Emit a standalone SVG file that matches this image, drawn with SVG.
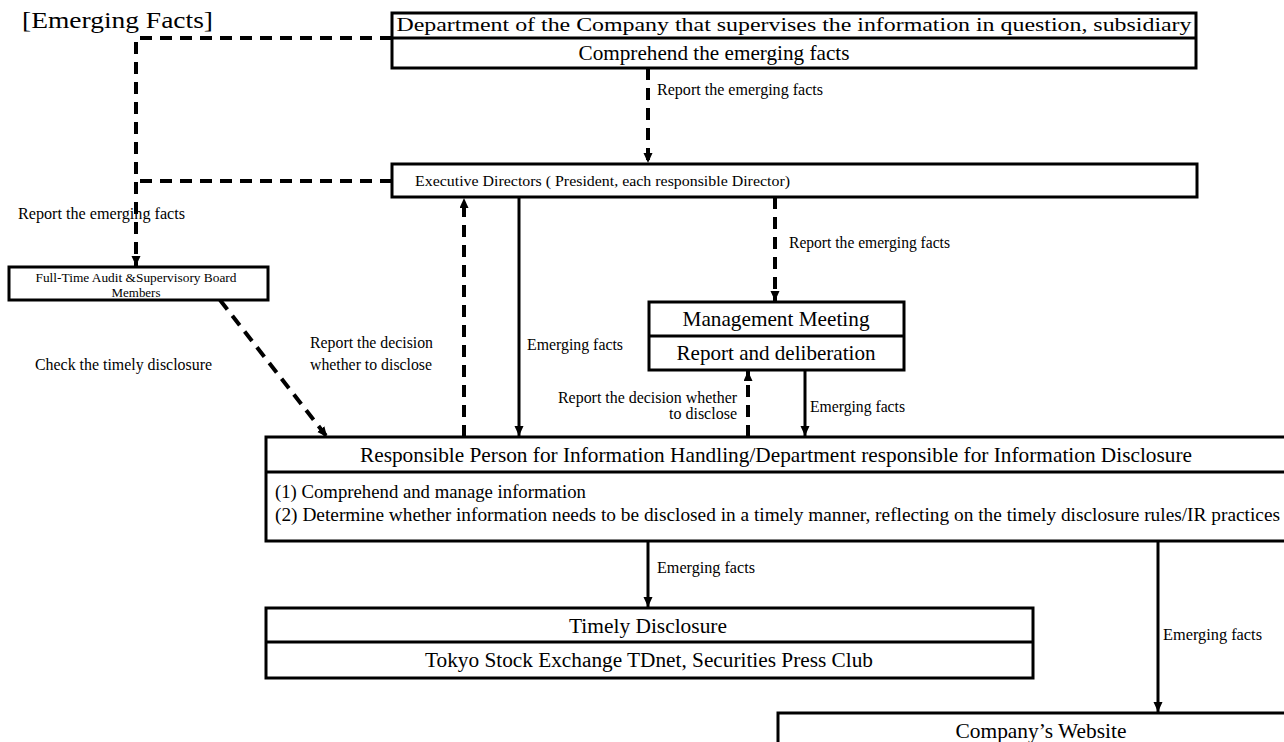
<svg xmlns="http://www.w3.org/2000/svg" width="1284" height="742" viewBox="0 0 1284 742">
<style>
  text { font-family: "Liberation Serif", "Times New Roman", serif; fill: #000; }
  .box { fill: #fff; stroke: #000; stroke-width: 3; }
  .div { stroke: #000; stroke-width: 3; }
  .dash { fill: none; stroke: #000; stroke-width: 4; stroke-dasharray: 12 8; }
  .solid { fill: none; stroke: #000; stroke-width: 3; }
  .c { text-anchor: middle; }
  .lbl { font-size: 16px; }
</style>
<defs>
  <marker id="ah" markerUnits="userSpaceOnUse" markerWidth="10" markerHeight="10" refX="10" refY="4.5" orient="auto">
    <path d="M0,0 L10,4.5 L0,9 z" fill="#000"/>
  </marker>
</defs>
<rect width="1284" height="742" fill="#fff"/>

<text x="22" y="28" font-size="24" textLength="191" lengthAdjust="spacingAndGlyphs">[Emerging Facts]</text>

<g id="connectors">
  <path class="dash" d="M392,38 H136 V266" marker-end="url(#ah)"/>
  <path class="dash" d="M392,181 H136"/>
  <path class="dash" d="M648,68 V163" marker-end="url(#ah)"/>
  <path class="dash" d="M220,300 L327,437" marker-end="url(#ah)"/>
  <path class="dash" d="M464,437 V198" marker-end="url(#ah)"/>
  <path class="solid" d="M519,197 V436" marker-end="url(#ah)"/>
  <path class="dash" d="M775,197 V301" marker-end="url(#ah)"/>
  <path class="dash" d="M748,437 V371" marker-end="url(#ah)"/>
  <path class="solid" d="M805,370 V436" marker-end="url(#ah)"/>
  <path class="solid" d="M648,541 V607" marker-end="url(#ah)"/>
  <path class="solid" d="M1158,541 V712" marker-end="url(#ah)"/>
  <text class="lbl" x="657" y="95" textLength="166" lengthAdjust="spacingAndGlyphs">Report the emerging facts</text>
  <text class="lbl" x="18" y="219" textLength="167" lengthAdjust="spacingAndGlyphs">Report the emerging facts</text>
  <text class="lbl" x="35" y="370" textLength="177" lengthAdjust="spacingAndGlyphs">Check the timely disclosure</text>
  <text class="lbl" x="310" y="348" textLength="123" lengthAdjust="spacingAndGlyphs">Report the decision</text>
  <text class="lbl" x="310" y="370" textLength="122" lengthAdjust="spacingAndGlyphs">whether to disclose</text>
  <text class="lbl" x="527" y="350" textLength="96" lengthAdjust="spacingAndGlyphs">Emerging facts</text>
  <text class="lbl" x="789" y="248" textLength="161" lengthAdjust="spacingAndGlyphs">Report the emerging facts</text>
  <text class="lbl" x="737" y="403" text-anchor="end" textLength="179" lengthAdjust="spacingAndGlyphs">Report the decision whether</text>
  <text class="lbl" x="737" y="419" text-anchor="end" textLength="68" lengthAdjust="spacingAndGlyphs">to disclose</text>
  <text class="lbl" x="810" y="412" textLength="95" lengthAdjust="spacingAndGlyphs">Emerging facts</text>
  <text class="lbl" x="657" y="573" textLength="98" lengthAdjust="spacingAndGlyphs">Emerging facts</text>
  <text class="lbl" x="1163" y="640" textLength="99" lengthAdjust="spacingAndGlyphs">Emerging facts</text>
</g>

<g id="node-department">
  <rect class="box" x="392" y="13" width="804" height="55"/>
  <line class="div" x1="392" y1="38" x2="1196" y2="38"/>
  <text class="c" x="794" y="31" font-size="19" textLength="795" lengthAdjust="spacingAndGlyphs">Department of the Company that supervises the information in question, subsidiary</text>
  <text class="c" x="714" y="60" font-size="21" textLength="271" lengthAdjust="spacingAndGlyphs">Comprehend the emerging facts</text>
</g>

<g id="node-executive">
  <rect class="box" x="392" y="164" width="805" height="33"/>
  <text x="415" y="186" font-size="15" textLength="375" lengthAdjust="spacingAndGlyphs">Executive Directors ( President, each responsible Director)</text>
</g>

<g id="node-audit">
  <rect class="box" x="9" y="267" width="259" height="33"/>
  <text class="c" x="136" y="282" font-size="13" textLength="201" lengthAdjust="spacingAndGlyphs">Full-Time Audit &amp;Supervisory Board</text>
  <text class="c" x="136" y="297" font-size="13" textLength="49" lengthAdjust="spacingAndGlyphs">Members</text>
</g>

<g id="node-management">
  <rect class="box" x="649" y="302" width="255" height="68"/>
  <line class="div" x1="649" y1="336" x2="904" y2="336"/>
  <text class="c" x="776" y="326" font-size="21" textLength="187" lengthAdjust="spacingAndGlyphs">Management Meeting</text>
  <text class="c" x="776" y="360" font-size="21" textLength="199" lengthAdjust="spacingAndGlyphs">Report and deliberation</text>
</g>

<g id="node-responsible">
  <rect class="box" x="266" y="437" width="1020" height="104"/>
  <line class="div" x1="266" y1="472" x2="1286" y2="472"/>
  <text class="c" x="776" y="462" font-size="21" textLength="832" lengthAdjust="spacingAndGlyphs">Responsible Person for Information Handling/Department responsible for Information Disclosure</text>
  <text x="275" y="498" font-size="18" textLength="311" lengthAdjust="spacingAndGlyphs">(1) Comprehend and manage information</text>
  <text x="275" y="521" font-size="18" textLength="1005" lengthAdjust="spacingAndGlyphs">(2) Determine whether information needs to be disclosed in a timely manner, reflecting on the timely disclosure rules/IR practices</text>
</g>

<g id="node-timely">
  <rect class="box" x="266" y="608" width="767" height="70"/>
  <line class="div" x1="266" y1="642" x2="1033" y2="642"/>
  <text class="c" x="648" y="633" font-size="21" textLength="158" lengthAdjust="spacingAndGlyphs">Timely Disclosure</text>
  <text class="c" x="649" y="667" font-size="20" textLength="448" lengthAdjust="spacingAndGlyphs">Tokyo Stock Exchange TDnet, Securities Press Club</text>
</g>

<g id="node-website">
  <rect class="box" x="778" y="713" width="510" height="40"/>
  <text class="c" x="1041" y="738" font-size="21" textLength="171" lengthAdjust="spacingAndGlyphs">Company’s Website</text>
</g>
</svg>
